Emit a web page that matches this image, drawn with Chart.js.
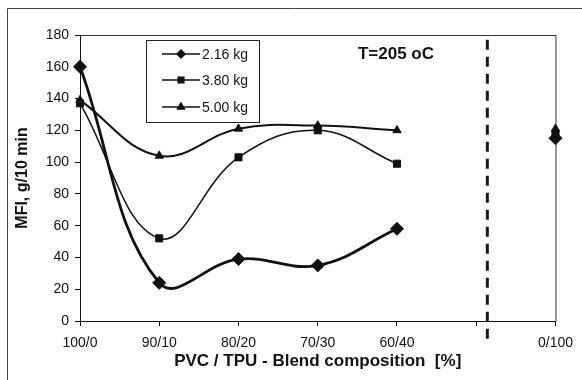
<!DOCTYPE html>
<html>
<head>
<meta charset="utf-8">
<script src="https://cdn.jsdelivr.net/npm/chart.js@4/dist/chart.umd.min.js"></script>
<style>
  html, body { margin: 0; padding: 0; background: #fff; }
  #wrap { width: 582px; height: 380px; }
</style>
</head>
<body>
<div id="wrap"><canvas id="myChart" width="582" height="380"></canvas></div>
<script>
// Blend compositions (PVC/TPU); the empty slot is the break before pure TPU
const compositions = ['100/0', '90/10', '80/20', '70/30', '60/40', '', '0/100'];

// MFI values, g/10 min
const mfi216 = [160, 24, 39, 35, 58, null, 115];
const mfi380 = [137, 52, 103, 120, 99, null, 118];
const mfi500 = [139, 104, 121, 123, 120, null, 121];

const yTicksMin = 0;
const yTicksMax = 180;
const yTicksStep = 20;

// where the dashed separator sits on the category axis
const dividerAt = 5.14;

const ink = '#111';

const seriesStyle = [
  { label: '2.16 kg', data: mfi216, pointStyle: 'rectRot', radius: 6.5, width: 2.8, legendRadius: 4 },
  { label: '3.80 kg', data: mfi380, pointStyle: 'rect', radius: 5, width: 1.5, legendRadius: 4 },
  { label: '5.00 kg', data: mfi500, pointStyle: 'triangle', radius: 4.8, width: 2, legendRadius: 4 },
];

// frame, dashed divider, legend box and temperature note
const decorations = {
  id: 'decorations',
  beforeDraw(chart) {
    const { ctx, chartArea } = chart;
    ctx.save();
    // outer figure frame (top + left only, as in the scan)
    ctx.strokeStyle = '#444';
    ctx.lineWidth = 1;
    ctx.beginPath();
    ctx.moveTo(7.5, 380);
    ctx.lineTo(7.5, 8.5);
    ctx.lineTo(582, 8.5);
    ctx.stroke();
    // plot frame top and right
    ctx.strokeStyle = '#333';
    ctx.beginPath();
    ctx.moveTo(chartArea.left, chartArea.top + 0.5);
    ctx.lineTo(chartArea.right + 0.5, chartArea.top + 0.5);
    ctx.lineTo(chartArea.right + 0.5, chartArea.bottom);
    ctx.stroke();
    ctx.restore();
  },
  afterDatasetsDraw(chart) {
    const { ctx, chartArea, scales } = chart;
    ctx.save();
    // dashed divider
    const dx = scales.x.getPixelForValue(dividerAt);
    ctx.strokeStyle = '#1a1a1a';
    ctx.lineWidth = 3;
    ctx.setLineDash([10, 7]);
    ctx.beginPath();
    ctx.moveTo(dx, scales.y.getPixelForValue(177));
    ctx.lineTo(dx, chartArea.bottom + 18);
    ctx.stroke();
    ctx.setLineDash([]);

    // temperature note
    ctx.fillStyle = ink;
    ctx.font = 'bold 17px "Liberation Sans", Arial, sans-serif';
    ctx.textAlign = 'center';
    ctx.textBaseline = 'middle';
    ctx.fillText('T=205 oC', 396, 54);

    // legend box
    const bx = 146, by = 40, bw = 113, bh = 82;
    ctx.fillStyle = '#fff';
    ctx.fillRect(bx, by, bw, bh);
    ctx.strokeStyle = '#222';
    ctx.lineWidth = 1;
    ctx.strokeRect(bx + 0.5, by + 0.5, bw, bh);
    const rows = [54, 80, 107];
    ctx.font = '14px "Liberation Sans", Arial, sans-serif';
    ctx.textAlign = 'left';
    seriesStyle.forEach((s, i) => {
      const y = rows[i];
      ctx.strokeStyle = ink;
      ctx.lineWidth = 1.5;
      ctx.beginPath();
      ctx.moveTo(162, y);
      ctx.lineTo(200, y);
      ctx.stroke();
      ctx.fillStyle = ink;
      Chart.helpers.drawPoint(ctx, {
        pointStyle: s.pointStyle, radius: s.legendRadius, rotation: 0, borderWidth: 1
      }, 181, y);
      ctx.fill();
      ctx.fillStyle = ink;
      ctx.fillText(s.label, 202, y + 1);
    });
    ctx.restore();
  }
};

const ctx = document.getElementById('myChart').getContext('2d');

new Chart(ctx, {
  type: 'line',
  data: {
    labels: compositions,
    datasets: seriesStyle.map(s => ({
      label: s.label,
      data: s.data,
      borderColor: ink,
      backgroundColor: ink,
      borderWidth: s.width,
      pointStyle: s.pointStyle,
      pointRadius: s.radius,
      pointBorderWidth: 1,
      tension: 0.4,
      spanGaps: false,
      fill: false,
    })),
  },
  options: {
    responsive: false,
    animation: false,
    layout: { padding: { top: 35, right: 24, left: 0, bottom: 0 } },
    plugins: {
      legend: { display: false },
      tooltip: { enabled: false },
    },
    scales: {
      x: {
        offset: false,
        afterFit(scale) { scale.height = 59; },
        grid: {
          drawOnChartArea: false,
          color: ink,
          tickLength: 5,
        },
        border: { color: ink, width: 1 },
        ticks: {
          color: ink,
          padding: 9,
          maxRotation: 0,
          autoSkip: false,
          font: { family: '"Liberation Sans", Arial, sans-serif', size: 14 },
        },
        title: {
          display: true,
          text: 'PVC / TPU - Blend composition  [%]',
          color: ink,
          padding: { top: 0, bottom: 8 },
          font: { family: '"Liberation Sans", Arial, sans-serif', size: 17, weight: 'bold' },
        },
      },
      y: {
        min: yTicksMin,
        max: yTicksMax,
        afterFit(scale) { scale.width = 80; },
        grid: {
          drawOnChartArea: false,
          color: ink,
          tickLength: 5,
        },
        border: { color: ink, width: 1 },
        ticks: {
          stepSize: yTicksStep,
          color: ink,
          padding: 6,
          font: { family: '"Liberation Sans", Arial, sans-serif', size: 14 },
        },
        title: {
          display: true,
          text: 'MFI, g/10 min',
          color: ink,
          padding: { top: 13, bottom: 0 },
          font: { family: '"Liberation Sans", Arial, sans-serif', size: 16, weight: 'bold' },
        },
      },
    },
  },
  plugins: [decorations],
});
</script>
</body>
</html>
